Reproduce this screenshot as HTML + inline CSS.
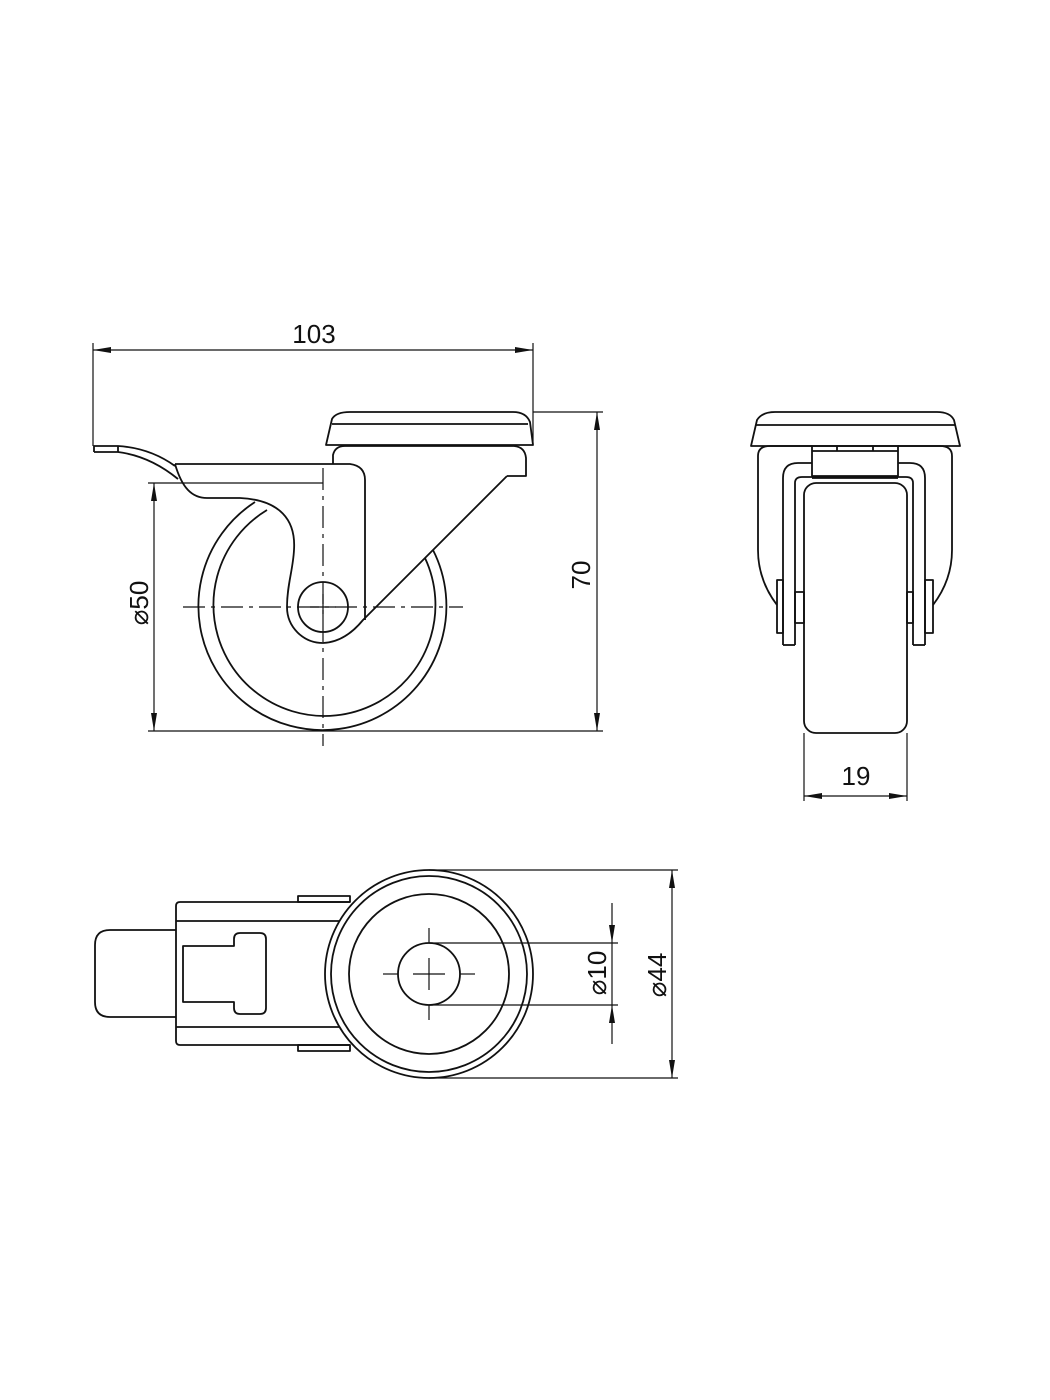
<!DOCTYPE html>
<html><head><meta charset="utf-8"><style>
html,body{margin:0;padding:0;background:#fff}
svg{display:block}
text{font-family:"Liberation Sans","DejaVu Sans",sans-serif;font-size:26px;fill:#111}
</style></head><body>
<svg width="1050" height="1400" viewBox="0 0 1050 1400" xmlns="http://www.w3.org/2000/svg">
<defs>
<marker id="a" viewBox="0 0 18 6" refX="18" refY="3" markerWidth="18" markerHeight="6" markerUnits="userSpaceOnUse" orient="auto-start-reverse"><path d="M0,0 L18,3 L0,6 Z" fill="#111"/></marker>
</defs>
<g fill="none" stroke="#111" stroke-width="1.8" stroke-linejoin="round">
<!-- SIDE VIEW -->
<path d="M326,445 L332,419 Q336,412 350,412 L513,412 Q526,412 530,422 L533,445 Z"/>
<line x1="332" y1="424" x2="528" y2="424"/>
<path d="M333,464 L333,455 Q335,446 345,446 L514,446 Q525,447 526,458 L526,476 L507,476"/>
<!-- wheel arcs -->
<path d="M255,502 A124,124 0 1 0 433,550"/>
<path d="M267,510 A111,111 0 1 0 425,558"/>
<!-- bracket -->
<path d="M175,464 L350,464 Q365,466 365,480 L365,620"/>
<path d="M507,476 L363,620 Q345,642 323,643 A36,36 0 0 1 287,607 C287,585 293,570 294,550 C296,520 280,500 240,498 L207,498 C192,498 182,488 175,464"/>
<circle cx="323" cy="607" r="25"/>
<!-- lever -->
<path d="M94,452 L94,446 L118,446 Q150,448 175,466"/>
<path d="M94,452 L118,452 Q150,456 178,479"/>
<line x1="118" y1="446" x2="118" y2="452"/>
<!-- centerlines -->
<line x1="183" y1="607" x2="463" y2="607" stroke-width="1.2" stroke-dasharray="22,6,4,6"/>
<line x1="323" y1="468" x2="323" y2="746" stroke-width="1.2" stroke-dasharray="22,6,4,6"/>
<line x1="310" y1="607" x2="336" y2="607" stroke-width="1.2"/>
<line x1="323" y1="594" x2="323" y2="620" stroke-width="1.2"/>
</g>
<g fill="none" stroke="#111" stroke-width="1.2">
<line x1="93" y1="343" x2="93" y2="446"/>
<line x1="533" y1="343" x2="533" y2="444"/>
<line x1="93" y1="350" x2="533" y2="350" marker-start="url(#a)" marker-end="url(#a)"/>
<line x1="148" y1="483" x2="323" y2="483"/>
<line x1="148" y1="731" x2="603" y2="731"/>
<line x1="154" y1="483" x2="154" y2="731" marker-start="url(#a)" marker-end="url(#a)"/>
<line x1="533" y1="412" x2="603" y2="412"/>
<line x1="597" y1="412" x2="597" y2="731" marker-start="url(#a)" marker-end="url(#a)"/>
</g>
<text x="314" y="343" text-anchor="middle">103</text>
<text transform="translate(148,603) rotate(-90)" text-anchor="middle">⌀50</text>
<text transform="translate(590,575) rotate(-90)" text-anchor="middle">70</text>

<!-- FRONT VIEW -->
<g fill="none" stroke="#111" stroke-width="1.8" stroke-linejoin="round">
<path d="M751,446 L757,420 Q762,412 775,412 L937,412 Q950,412 954,420 L960,446 Z"/>
<line x1="756" y1="425" x2="955" y2="425"/>
<path d="M777,605 Q758,580 758,550 L758,456 Q758,446 770,446 L812,446"/>
<path d="M933,605 Q952,580 952,550 L952,456 Q952,446 940,446 L898,446"/>
<rect x="812" y="446" width="86" height="30"/>
<line x1="812" y1="451" x2="898" y2="451"/>
<line x1="837" y1="446" x2="837" y2="451"/>
<line x1="873" y1="446" x2="873" y2="451"/>
<path d="M783,645 L783,478 Q783,463 798,463 L812,463"/>
<path d="M925,645 L925,478 Q925,463 910,463 L898,463"/>
<path d="M795,645 L795,483 Q795,477 802,477 L906,477 Q913,477 913,483 L913,645"/>
<line x1="783" y1="645" x2="795" y2="645"/>
<line x1="913" y1="645" x2="925" y2="645"/>
<line x1="812" y1="478" x2="898" y2="478"/>
<rect x="804" y="483" width="103" height="250" rx="12"/>
<rect x="777" y="580" width="6" height="53"/>
<rect x="925" y="580" width="8" height="53"/>
<rect x="795" y="592" width="9" height="31"/>
<rect x="907" y="592" width="6" height="31"/>
</g>
<g fill="none" stroke="#111" stroke-width="1.2">
<line x1="804" y1="733" x2="804" y2="801"/>
<line x1="907" y1="733" x2="907" y2="801"/>
<line x1="804" y1="796" x2="907" y2="796" marker-start="url(#a)" marker-end="url(#a)"/>
</g>
<text x="856" y="785" text-anchor="middle">19</text>

<!-- TOP VIEW -->
<g fill="none" stroke="#111" stroke-width="1.8" stroke-linejoin="round">
<path d="M176,930 L110,930 Q95,930 95,945 L95,1002 Q95,1017 110,1017 L176,1017"/>
<path d="M350,902 L180,902 Q176,902 176,906 L176,1041 Q176,1045 180,1045 L350,1045"/>
<line x1="176" y1="921" x2="340" y2="921"/>
<line x1="176" y1="1027" x2="340" y2="1027"/>
<rect x="298" y="896" width="52" height="6"/>
<rect x="298" y="1045" width="52" height="6"/>
<path d="M234,946 L183,946 L183,1002 L234,1002 L234,1008 Q234,1014 240,1014 L260,1014 Q266,1014 266,1008 L266,939 Q266,933 260,933 L240,933 Q234,933 234,939 Z"/>
<circle cx="429" cy="974" r="104" fill="#fff"/>
<circle cx="429" cy="974" r="98"/>
<circle cx="429" cy="974" r="80"/>
<circle cx="429" cy="974" r="31"/>
</g>
<g fill="none" stroke="#111" stroke-width="1.2">
<line x1="383" y1="974" x2="398" y2="974"/>
<line x1="413" y1="974" x2="445" y2="974"/>
<line x1="460" y1="974" x2="475" y2="974"/>
<line x1="429" y1="928" x2="429" y2="943"/>
<line x1="429" y1="958" x2="429" y2="990"/>
<line x1="429" y1="1005" x2="429" y2="1020"/>
<line x1="429" y1="943" x2="618" y2="943"/>
<line x1="429" y1="1005" x2="618" y2="1005"/>
<line x1="612" y1="903" x2="612" y2="943" marker-end="url(#a)"/>
<line x1="612" y1="1044" x2="612" y2="1005" marker-end="url(#a)"/>
<line x1="612" y1="943" x2="612" y2="1005"/>
<line x1="429" y1="870" x2="678" y2="870"/>
<line x1="429" y1="1078" x2="678" y2="1078"/>
<line x1="672" y1="870" x2="672" y2="1078" marker-start="url(#a)" marker-end="url(#a)"/>
</g>
<text transform="translate(606,973) rotate(-90)" text-anchor="middle">⌀10</text>
<text transform="translate(666,975) rotate(-90)" text-anchor="middle">⌀44</text>
</svg>
</body></html>
